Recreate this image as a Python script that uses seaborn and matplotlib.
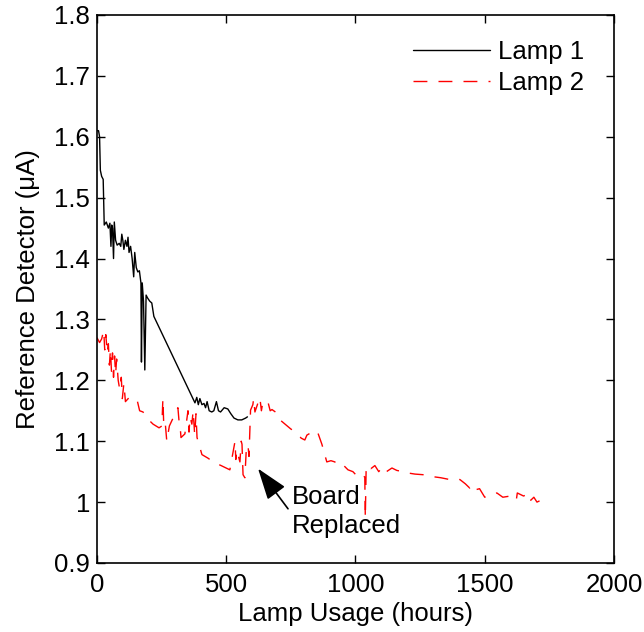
import matplotlib
matplotlib.use("Agg")
import matplotlib.pyplot as plt
import seaborn as sns
import numpy as np
import pandas as pd

# ---- data ----
lamp1_hours = [0, 6, 10, 13, 18, 24, 28, 36, 44, 50, 54, 57, 60, 64, 67, 72, 78, 86, 92, 96,
               100, 104, 110, 116, 120, 124, 130, 136, 142, 146, 152, 158, 164, 170, 172, 175,
               180, 185, 190, 196, 204, 212, 220, 379, 386, 392, 398, 406, 414, 420, 426, 434,
               444, 452, 462, 470, 478, 492, 506, 518, 530, 545, 560, 575, 582]
lamp1_values = [1.61, 1.61, 1.60, 1.545, 1.535, 1.53, 1.455, 1.46, 1.45, 1.458, 1.42, 1.455,
                1.45, 1.40, 1.46, 1.43, 1.422, 1.425, 1.42, 1.44, 1.43, 1.415, 1.43, 1.42,
                1.435, 1.41, 1.42, 1.40, 1.37, 1.41, 1.385, 1.378, 1.38, 1.36, 1.23, 1.36,
                1.33, 1.217, 1.34, 1.335, 1.33, 1.327, 1.305, 1.163, 1.172, 1.16, 1.17, 1.16,
                1.162, 1.155, 1.165, 1.15, 1.148, 1.15, 1.165, 1.15, 1.148, 1.155, 1.153,
                1.145, 1.138, 1.135, 1.135, 1.138, 1.14]

lamp2_hours = [0, 10, 18, 26, 30, 34, 40, 44, 48, 52, 56, 60, 64, 68, 72, 76, 82, 88, 94, 98,
               104, 110, 125, 155, 165, 178, 200, 217, 240, 251, 255, 258, 263, 270, 280, 313,
               318, 321, 325, 340, 352, 356, 360, 367, 372, 378, 383, 387, 406, 430, 449, 480,
               514, 534, 537, 541, 553, 558, 561, 565, 572, 578, 584, 588, 592, 594, 603, 606,
               611, 630, 636, 642, 661, 670, 677, 700, 708, 739, 750, 766, 790, 804, 812, 824,
               845, 855, 870, 889, 905, 920, 935, 950, 971, 990, 1010, 1025, 1036, 1038, 1041,
               1048, 1060, 1075, 1090, 1105, 1120, 1141, 1160, 1184, 1200, 1230, 1261, 1280,
               1295, 1330, 1365, 1385, 1404, 1425, 1442, 1450, 1462, 1480, 1500, 1520, 1547,
               1570, 1600, 1622, 1626, 1650, 1672, 1678, 1690, 1702, 1712]
lamp2_values = [1.270, 1.262, 1.268, 1.282, 1.250, 1.275, 1.245, 1.260, 1.225, 1.250, 1.215,
                1.245, 1.205, 1.240, 1.210, 1.235, 1.200, 1.185, 1.205, 1.170, 1.195, 1.165,
                1.172, 1.168, 1.150, 1.148, 1.135, 1.128, 1.122, 1.125, 1.170, 1.130, 1.135,
                1.100, 1.125, 1.155, 1.130, 1.128, 1.106, 1.112, 1.150, 1.115, 1.140, 1.128,
                1.150, 1.110, 1.145, 1.106, 1.078, 1.072, 1.066, 1.060, 1.053, 1.100, 1.070,
                1.085, 1.066, 1.100, 1.095, 1.045, 1.040, 1.090, 1.094, 1.075, 1.124, 1.151,
                1.160, 1.170, 1.148, 1.172, 1.150, 1.165, 1.165, 1.150, 1.152, 1.145, 1.135,
                1.124, 1.120, 1.116, 1.105, 1.102, 1.110, 1.113, 1.108, 1.113, 1.095, 1.066,
                1.068, 1.066, 1.060, 1.062, 1.053, 1.050, 1.041, 1.045, 1.041, 0.974, 1.050,
                1.061, 1.055, 1.060, 1.050, 1.058, 1.050, 1.056, 1.052, 1.050, 1.048, 1.046,
                1.045, 1.043, 1.042, 1.040, 1.037, 1.038, 1.037, 1.030, 1.023, 1.028, 1.020,
                1.022, 1.008, 1.012, 1.015, 1.008, 1.010, 1.003, 1.015, 1.010, 1.014, 1.003,
                1.008, 1.000, 1.002]

x_ticks = [0, 500, 1000, 1500, 2000]
y_ticks = [0.9, 1.0, 1.1, 1.2, 1.3, 1.4, 1.5, 1.6, 1.7, 1.8]
y_tick_labels = ["0.9", "1", "1.1", "1.2", "1.3", "1.4", "1.5", "1.6", "1.7", "1.8"]

sns.set_style("white")
plt.rcParams['font.family'] = ['Liberation Sans', 'DejaVu Sans']
plt.rcParams['text.color'] = 'black'
plt.rcParams['axes.labelcolor'] = 'black'
plt.rcParams['xtick.color'] = 'black'
plt.rcParams['ytick.color'] = 'black'

FS = 18.5

fig = plt.figure(figsize=(6.44, 6.32), dpi=100)
ax = fig.add_axes([0.1506, 0.1092, 0.8028, 0.8671])

sns.lineplot(x=lamp1_hours, y=lamp1_values, ax=ax, color='black', lw=1.0,
             sort=False, estimator=None, label='Lamp 1')
sns.lineplot(x=lamp2_hours, y=lamp2_values, ax=ax, color='#ff0000', lw=1.0,
             sort=False, estimator=None, label='Lamp 2', linestyle=(0, (10, 8)))

ax.set_xlim(0, 2000)
ax.set_ylim(0.9, 1.8)
ax.set_xticks(x_ticks)
ax.set_xticklabels([str(t) for t in x_ticks])
ax.set_yticks(y_ticks)
ax.set_yticklabels(y_tick_labels)
ax.tick_params(direction='in', length=6, width=1, labelsize=FS, top=True, right=True,
               bottom=True, left=True, colors='black')
ax.tick_params(axis='x', pad=7)
ax.tick_params(axis='y', pad=5)
for s in ax.spines.values():
    s.set_color('black')
    s.set_linewidth(1.2)

ax.set_xlabel('Lamp Usage (hours)', fontsize=FS, labelpad=4)
ax.set_ylabel('Reference Detector (\u03bcA)', fontsize=FS, labelpad=10)

leg = ax.legend(loc='upper right', frameon=False, fontsize=FS, handlelength=3.0,
                handletextpad=0.3, borderaxespad=0.0, labelspacing=0.3,
                bbox_to_anchor=(0.962, 0.974))
for line in leg.get_lines():
    line.set_linewidth(1.0)

ax.annotate('', xy=(623, 1.055), xytext=(739, 0.989),
            arrowprops=dict(arrowstyle='-|>,head_length=1.3,head_width=0.45',
                            color='black', lw=1.2, mutation_scale=15,
                            shrinkA=0, shrinkB=0))
ax.text(752, 1.028, 'Board\nReplaced', fontsize=FS, ha='left', va='top', linespacing=1.25)

fig.savefig('out.png', dpi=100)
